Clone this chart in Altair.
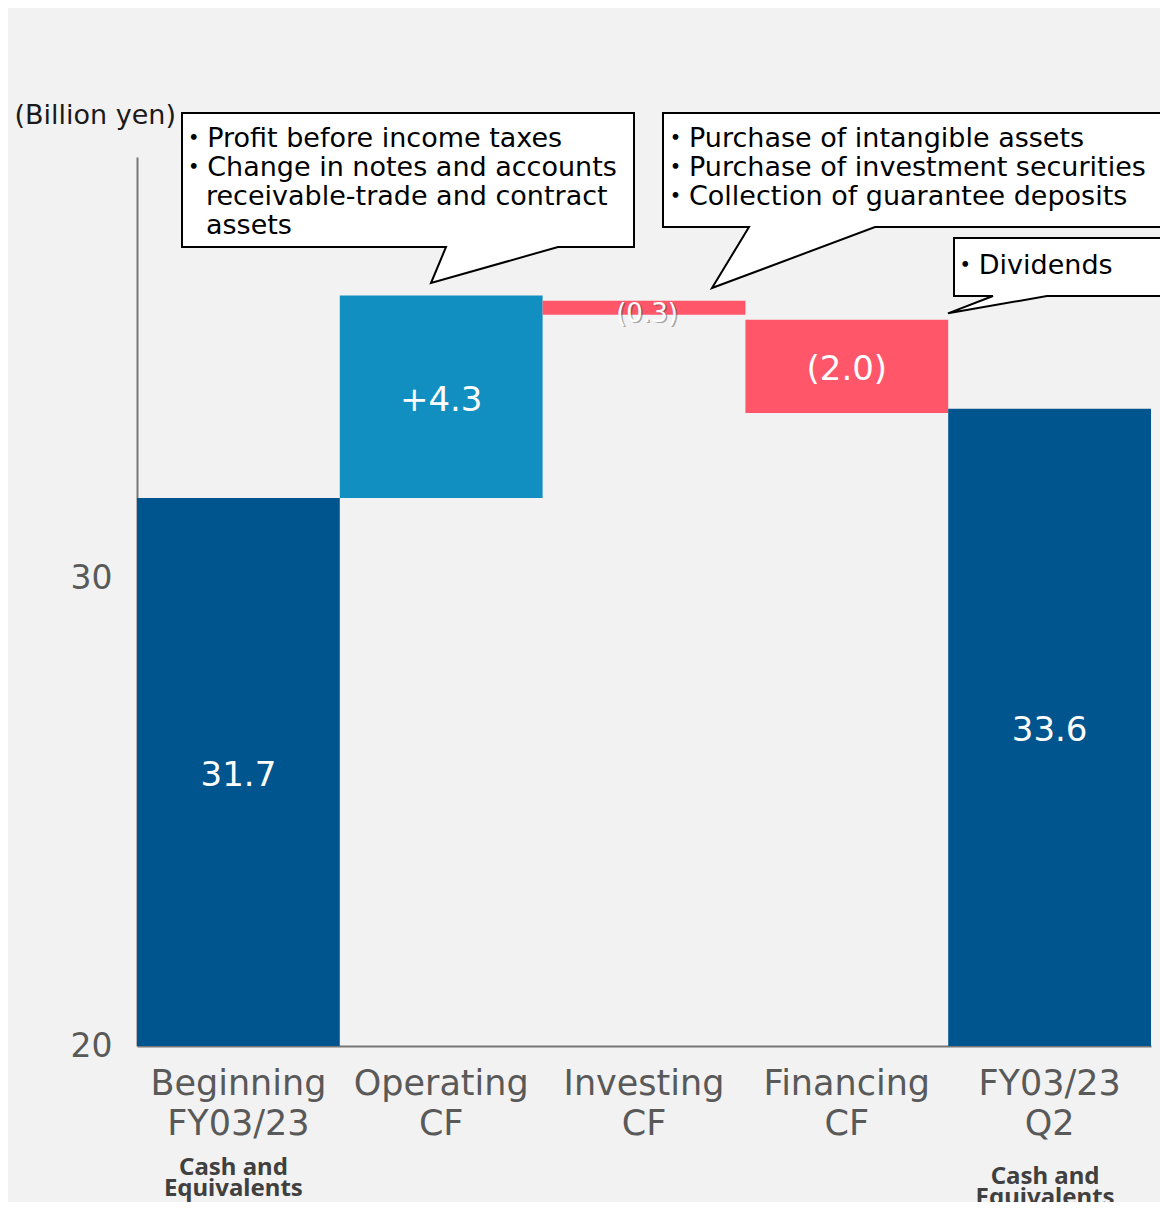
import altair as alt
import pandas as pd

# ---------------- data ----------------
categories = ["Beginning|FY03/23", "Operating|CF", "Investing|CF", "Financing|CF", "FY03/23|Q2"]
bar_starts = [20.0, 31.71, 35.93, 35.52, 20.0]
bar_ends = [31.71, 36.04, 35.63, 33.53, 33.62]
value_labels = ["31.7", "+4.3", "(0.3)", "(2.0)", "33.6"]
bar_kinds = ["Cash balance", "Increase", "Decrease", "Decrease", "Cash balance"]
kind_names = ["Cash balance", "Increase", "Decrease"]
y_tick_values = [20, 30]
y_domain = [20, 39]
axis_title = "(Billion yen)"

cash_label_categories = ["Beginning|FY03/23", "FY03/23|Q2"]
cash_label_lines = ["Cash and", "Equivalents"]

# zero-width space keeps the hanging indent from being trimmed
INDENT = "\u200b\u00a0\u00a0\u00a0"
callout_categories = ["Operating|CF", "Investing|CF", "Financing|CF"]
callout_anchor_values = [36.04, 35.93, 35.52]
callout_lines = [
    ["・Profit before income taxes",
     "・Change in notes and accounts",
     INDENT + "receivable-trade and contract",
     INDENT + "assets"],
    ["・Purchase of intangible assets",
     "・Purchase of investment securities",
     "・Collection of guarantee deposits"],
    ["・Dividends"],
]

# ---------------- styles / annotation geometry ----------------
kind_colors = ["#00558e", "#118fc1", "#ff566a"]
FONT = "DejaVu Sans, Noto Sans CJK JP"
GRAY = "#595959"
AXIS_LINE = "#767676"

# callout outlines (pixel offsets from the anchor point, size=4 -> scale 1)
callout_shapes = [
    "M-10.2,-12.5 L4.8,-48.5 L-259.2,-48.5 L-259.2,-182.5 L192.8,-182.5 L192.8,-48.5 L116.8,-48.5 Z",
    "M68,-12.6 L105,-73.6 L19,-73.6 L19,-187.6 L536,-187.6 L536,-73.6 L231,-73.6 Z",
    "M101.2,-6.5 L146.2,-23.8 L107.2,-23.8 L107.2,-81.8 L333.2,-81.8 L333.2,-23.8 L200.2,-23.8 Z",
]
callout_text_offsets = [(-261, -169.5), (18, -174.6), (105, -66.8)]
cash_label_offsets = [(-5, 110), (-4.5, 119)]

bars_df = pd.DataFrame({
    "category": categories,
    "start": bar_starts,
    "end": bar_ends,
    "label": value_labels,
    "kind": bar_kinds,
})

x_scale = alt.Scale(domain=categories, paddingInner=0, paddingOuter=0)
x_axis = alt.Axis(
    title=None, labelExpr="split(datum.label, '|')", labelAngle=0,
    labelFont=FONT, labelFontSize=35, labelColor=GRAY, labelLineHeight=40,
    labelBaseline="top", labelPadding=20, ticks=False, tickSize=0,
    domainColor=AXIS_LINE, domainWidth=2, labelLimit=0,
)
y_scale = alt.Scale(domain=y_domain, nice=False, zero=False)
y_axis = alt.Axis(
    values=y_tick_values, title=axis_title, grid=False, ticks=False, tickSize=0,
    labelFont=FONT, labelFontSize=33, labelColor=GRAY, labelPadding=25,
    domainColor=AXIS_LINE, domainWidth=2,
    titleAngle=0, titleAlign="left", titleBaseline="middle",
    titleX=-123, titleY=-41.5, titleFont=FONT, titleFontSize=27,
    titleFontWeight="normal", titleColor="#1a1a1a",
)


def X():
    return alt.X("category:N", scale=x_scale, axis=x_axis)


def Y(field):
    return alt.Y(field, scale=y_scale, axis=y_axis)


bars = alt.Chart(bars_df).mark_bar(strokeWidth=0).encode(
    x=X(),
    y=Y("start:Q"),
    y2="end:Q",
    color=alt.Color("kind:N", scale=alt.Scale(domain=kind_names, range=kind_colors), legend=None),
)

layers = [bars]

# callouts
for cat, val, shape, lines, (tdx, tdy) in zip(
    callout_categories, callout_anchor_values, callout_shapes, callout_lines, callout_text_offsets
):
    cdf = pd.DataFrame({"category": [cat], "value": [val]})
    box = alt.Chart(cdf).mark_point(
        shape=shape, size=4, filled=True, fill="white", stroke="black",
        strokeWidth=2, opacity=1, fillOpacity=1, strokeOpacity=1, strokeJoin="miter",
    ).encode(x=X(), y=Y("value:Q"))
    txt = alt.Chart(cdf).mark_text(
        text=lines, align="left", baseline="top", dx=tdx, dy=tdy,
        font=FONT, fontSize=27, lineHeight=29, color="black",
    ).encode(x=X(), y=Y("value:Q"))
    layers += [box, txt]

# value labels
labels_base = alt.Chart(bars_df).transform_calculate(
    mid="(datum.start + datum.end) / 2",
    thin="abs(datum.end - datum.start) < 0.5",
)
main_labels = labels_base.transform_filter("!datum.thin").mark_text(
    font=FONT, fontSize=34, color="white", baseline="middle", dy=4,
).encode(x=X(), y=Y("mid:Q"), text="label:N")
thin_shadow = labels_base.transform_filter("datum.thin").mark_text(
    font=FONT, fontSize=26, color="#444444", opacity=0.45, baseline="middle", dx=4.5, dy=7.5,
).encode(x=X(), y=Y("mid:Q"), text="label:N")
thin_labels = labels_base.transform_filter("datum.thin").mark_text(
    font=FONT, fontSize=26, color="white", baseline="middle", dx=3, dy=6,
).encode(x=X(), y=Y("mid:Q"), text="label:N")
layers += [main_labels, thin_shadow, thin_labels]

# "Cash and Equivalents" captions under the balance bars
for cat, (cdx, cdy) in zip(cash_label_categories, cash_label_offsets):
    cdf = pd.DataFrame({"category": [cat], "base": [y_domain[0]]})
    cap = alt.Chart(cdf).mark_text(
        text=cash_label_lines, font="Noto Sans", fontWeight="bold", fontSize=24,
        lineHeight=21, color="#404040", align="center", baseline="top", dx=cdx, dy=cdy,
    ).encode(x=X(), y=Y("base:Q"))
    layers.append(cap)

chart = alt.layer(*layers).properties(
    width=1014,
    height=889,
    autosize=alt.AutoSizeParams(type="none"),
    padding={"left": 129, "top": 149, "right": 9, "bottom": 156},
    background="#f2f2f2",
).configure_view(stroke=None)

chart.save("out.html", embed_options={"renderer": "svg", "actions": False})
